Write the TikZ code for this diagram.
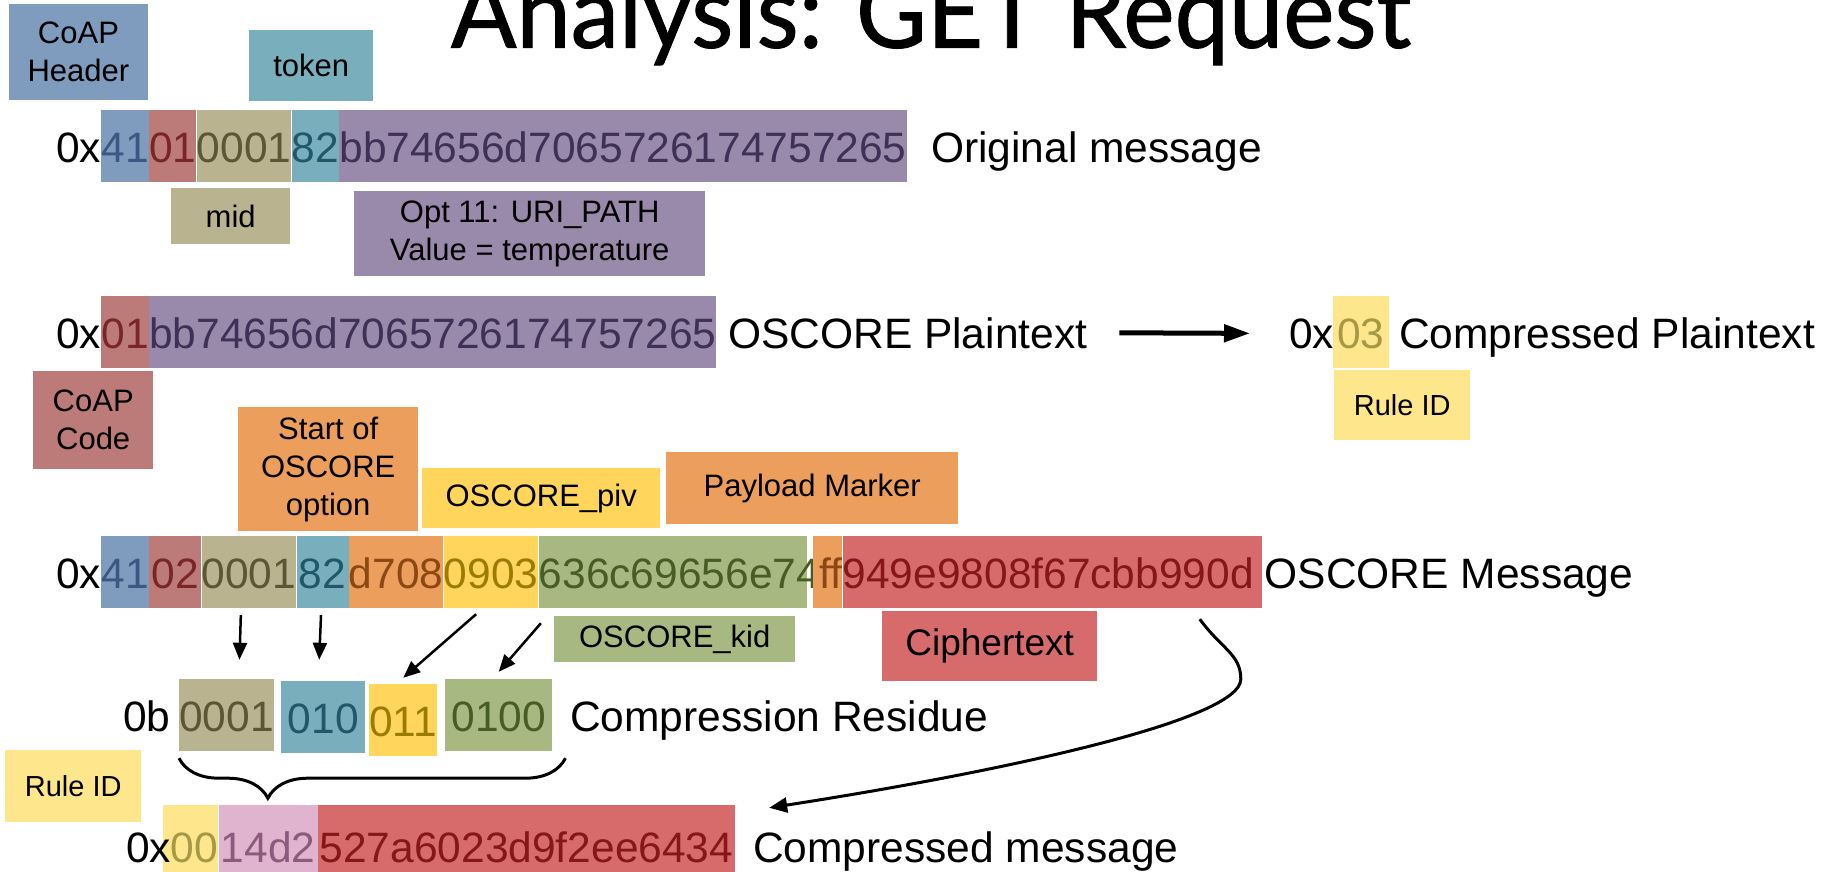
\documentclass[tikz,border=0pt]{standalone}
\usepackage{fontspec}
\setmainfont{Liberation Sans}
\newfontfamily\titlefont{Lato}[FakeBold=1]
\usetikzlibrary{arrows.meta,decorations.pathreplacing,calc}

% fills and matching darker text colours
\definecolor{fBlue}{RGB}{127,155,190}
\definecolor{tBlue}{RGB}{58,88,130}
\definecolor{fRed}{RGB}{188,123,120}
\definecolor{tRed}{RGB}{120,38,38}
\definecolor{fKhaki}{RGB}{185,179,143}
\definecolor{tKhaki}{RGB}{92,85,54}
\definecolor{fTeal}{RGB}{121,175,189}
\definecolor{tTeal}{RGB}{32,88,106}
\definecolor{fPurple}{RGB}{153,138,171}
\definecolor{tPurple}{RGB}{62,48,86}
\definecolor{fOrange}{RGB}{236,158,93}
\definecolor{tOrange}{RGB}{140,72,18}
\definecolor{fYellow}{RGB}{255,213,92}
\definecolor{tYellow}{RGB}{155,123,0}
\definecolor{fGreen}{RGB}{167,185,128}
\definecolor{tGreen}{RGB}{72,92,40}
\definecolor{fCrimson}{RGB}{215,107,108}
\definecolor{tCrimson}{RGB}{135,22,24}
\definecolor{fPale}{RGB}{253,230,139}
\definecolor{tPale}{RGB}{166,152,68}
\definecolor{fPink}{RGB}{224,179,206}
\definecolor{tPink}{RGB}{140,90,125}

\begin{document}
\begin{tikzpicture}[x=1pt,y=-1pt,
  big/.style={font=\fontsize{42.5}{50}\selectfont},
  txt/.style={big,inner sep=0pt,anchor=base west},
  seg/.style={big,inner xsep=0pt,inner ysep=0pt,text height=52pt,text depth=20pt,anchor=base west},
  tall/.style={text height=57pt},
  lbl/.style={font=\fontsize{31}{38}\selectfont,inner sep=0pt,align=center,anchor=north west},
  small/.style={font=\fontsize{29}{35}\selectfont},
  arr/.style={line width=2.5pt,-{Triangle[length=17pt,width=14pt]}},
]
\useasboundingbox (0,0) rectangle (1836,872);
\clip (0,0) rectangle (1836,872);
\fill[white] (0,0) rectangle (1836,872);

% title
\node[anchor=base,inner sep=0pt] (title) at (931,47.7)
  {\resizebox{960pt}{75pt}{\titlefont Analysis: GET Request}};

% ---- original message ----
\node[txt] (o0x) at (56,162) {0x};
\node[seg,fill=fBlue,text=tBlue] (o41) at (o0x.base east) {41};
\node[seg,fill=fRed,text=tRed] (o01) at (o41.base east) {01};
\node[seg,fill=fKhaki,text=tKhaki] (omid) at (o01.base east) {0001};
\node[seg,fill=fTeal,text=tTeal] (otok) at (omid.base east) {82};
\node[seg,fill=fPurple,text=tPurple] (oopt) at (otok.base east) {bb74656d7065726174757265};
\node[txt] (olab) at (931,162) {Original message};

\node[lbl,fill=fBlue,minimum width=139.5pt,minimum height=96pt] (hdr) at (8.5,4) {CoAP\\Header};
\node[lbl,fill=fTeal,minimum width=124pt,minimum height=71pt] (tok) at (249,30) {token};
\node[lbl,fill=fKhaki,minimum width=119pt,minimum height=56pt] (midl) at (171,188) {mid};
\node[lbl,fill=fPurple,minimum width=351pt,minimum height=85pt] (optl) at (354,191) {Opt 11: URI\_PATH\\Value = temperature};

% ---- OSCORE plaintext ----
\node[txt] (p0x) at (56,348) {0x};
\node[seg,fill=fRed,text=tRed] (p01) at (p0x.base east) {01};
\node[seg,fill=fPurple,text=tPurple] (pbody) at (p01.base east) {bb74656d7065726174757265};
\node[txt] (plab) at (728,348) {OSCORE Plaintext};

\node[seg,fill=fPale,text=tPale,minimum width=56.5pt] (c03) at (1332.5,348) {03};
\node[txt] (c0x) at (1289,348) {0x};
\node[txt] (clab) at (1399,348) {Compressed Plaintext};
\node[lbl,small,fill=fPale,minimum width=136pt,minimum height=70pt] (rid1) at (1334,370) {Rule ID};

\draw[line width=5pt,-{Triangle[length=26pt,width=17pt]}]
  ($(plab.east)+(32,0)$) -- ($(c0x.west)+(-39,0)$);

\node[lbl,fill=fRed,minimum width=120pt,minimum height=98pt] (code) at (33,371) {CoAP\\Code};

% ---- OSCORE message ----
\node[lbl,fill=fOrange,minimum width=180pt,minimum height=124pt] (start) at (238,407) {Start of\\OSCORE\\option};
\node[lbl,fill=fYellow,minimum width=238pt,minimum height=60pt] (piv) at (422,468) {OSCORE\_piv};
\node[lbl,fill=fOrange,minimum width=292pt,minimum height=72pt] (pm) at (666,452) {Payload Marker};

\node[txt] (m0x) at (56,588) {0x};
\node[seg,fill=fBlue,text=tBlue] (m41) at (m0x.base east) {41};
\node[seg,fill=fRed,text=tRed,minimum width=52pt] (m02) at (m41.base east) {02};
\node[seg,fill=fKhaki,text=tKhaki] (mmid) at (m02.base east) {0001};
\node[seg,fill=fTeal,text=tTeal,minimum width=52pt] (mtok) at (mmid.base east) {82};
\node[seg,fill=fOrange,text=tOrange] (mopt) at (mtok.base east) {d708};
\node[seg,fill=fYellow,text=tYellow] (mpiv) at (mopt.base east) {0903};
\node[seg,fill=fGreen,text=tGreen] (mkid) at (mpiv.base east) {\makebox[268pt][l]{636c69656e74}};
\node[seg,fill=fOrange,text=tOrange] (mff) at ($(mkid.base east)+(6,0)$) {\makebox[29pt][r]{ff}};
\node[seg,fill=fCrimson,text=tCrimson] (mct) at (mff.base east) {\makebox[419pt][l]{949e9808f67cbb990d}};
\node[txt] (mlab) at (1264.6,588) {OSCORE Message};

\node[lbl,fill=fGreen,minimum width=241pt,minimum height=46pt] (kid) at (554,616) {OSCORE\_kid};
\node[lbl,font=\fontsize{37}{44}\selectfont,fill=fCrimson,minimum width=215pt,minimum height=70pt] (ctl) at (882,611) {Ciphertext};

% ---- compression residue ----
\node[txt] (r0b) at (123,731) {0b};
\node[seg,fill=fKhaki,text=tKhaki] (r4a) at (179,731) {0001};
\node[seg,fill=fTeal,text=tTeal,minimum width=84pt] (r4b) at (281,733) {010};
\node[seg,fill=fYellow,text=tYellow,minimum width=68pt] (r4c) at (369,736) {011};
\node[seg,fill=fGreen,text=tGreen,minimum width=107pt] (r4d) at (445,731) {0100};
\node[txt] (rlab) at (570,731) {Compression Residue};

\draw[arr] ($(mmid.south)+(-8,7)$) -- ($(r4a.north)+(13,-19)$);
\draw[arr] ($(mtok.south)+(-1.5,7)$) -- ($(r4b.north)+(-4,-21)$);
\draw[arr] ($(mpiv.south)+(-15,6)$) -- ($(r4c.north)+(0,-6)$);
\draw[arr] ($(mkid.south west)+(2.3,15)$) -- ($(r4d.north)+(0,-7)$);

\draw[line width=3pt,decorate,decoration={brace,mirror,amplitude=40pt,aspect=0.23}]
  ($(r4a.south west)+(0,7)$) -- ($(r4d.south east)+(13,7)$);

\node[lbl,small,fill=fPale,minimum width=136pt,minimum height=72pt] (rid2) at (5,750) {Rule ID};

% ---- compressed message ----
\node[seg,tall,fill=fPale,text=tPale] (z00) at (163,862) {\makebox[55pt][r]{00}};
\node[seg,tall,fill=fPink,text=tPink,minimum width=99pt] (z14) at (z00.base east) {14d2};
\node[seg,tall,fill=fCrimson,text=tCrimson,minimum width=417pt] (zred) at (z14.base east) {527a6023d9f2ee6434};
\node[txt] (z0x) at (126,862) {0x};
\node[txt] (zlab) at (753,862) {Compressed message};

% ciphertext carried into the compressed message
\coordinate (cs) at ($(mct.south east)+(-62,11)$);
\coordinate (ce) at ($(zred.north east)+(34,3)$);
\draw[line width=3pt,-{Triangle[length=18pt,width=15pt]}]
  (cs) .. controls ($(cs)+(22,30)$) and ($(cs)+(41,35)$) .. ($(cs)+(41,60)$)
       .. controls ($(cs)+(41,101)$) and ($(ce)+(232,-36)$) .. (ce);
\end{tikzpicture}
\end{document}
